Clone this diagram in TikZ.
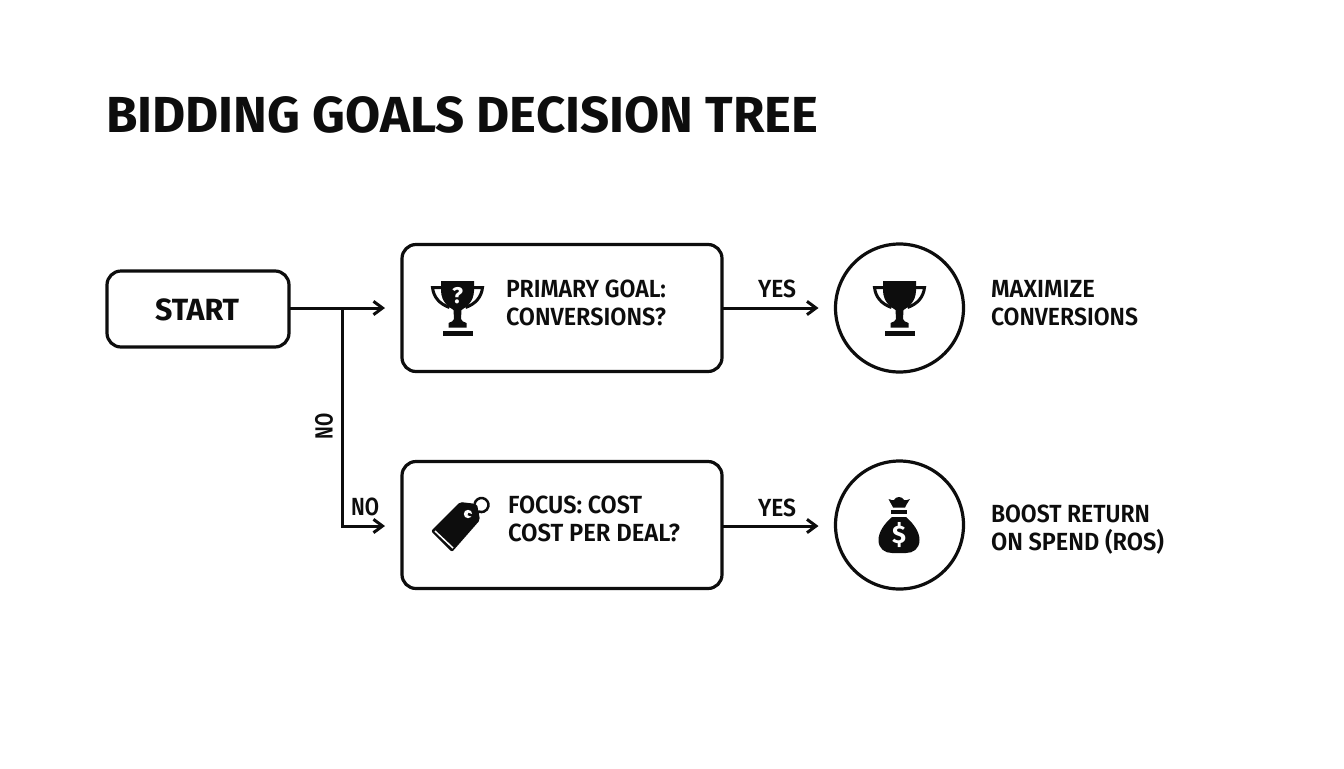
\documentclass[tikz,border=0pt]{standalone}
\usepackage{fontspec}
\usepackage{graphicx}
\setmainfont{Fira Sans}[UprightFont=* SemiBold,BoldFont=* Bold]
\usetikzlibrary{arrows.meta}
\newlength\pxu
\setlength\pxu{0.75pt}
\newcommand\fitw[2]{\resizebox{#1\pxu}{\height}{#2}}
\definecolor{ink}{HTML}{0D0D0D}
\tikzset{
  lbl/.style={inner sep=0pt,outer sep=0pt,anchor=base west,text=ink,font=\fontsize{18.6pt}{20pt}\selectfont},
  flowbox/.style={draw=ink,line width=3.2\pxu,rounded corners=14\pxu,rectangle,inner sep=0pt,outer sep=0pt,fill=white},
  goalcircle/.style={draw=ink,line width=3.2\pxu,circle,inner sep=0pt,outer sep=0pt,minimum size=128\pxu,fill=white},
  conn/.style={draw=ink,line width=3\pxu},
  arrowed/.style={conn,-{Straight Barb[length=6.75pt,width=10pt,line width=2.25pt]}},
  trophy/.pic={
    \fill[ink] (-16.5,0) -- (16.5,0) -- (16.5,10) .. controls (16,21) and (9,26) .. (4,29)
      -- (3.5,38) .. controls (4,40) and (6,41) .. (9,42) -- (9,46.5) -- (-9,46.5) -- (-9,42)
      .. controls (-6,41) and (-4,40) .. (-3.5,38) -- (-4,29) .. controls (-9,26) and (-16,21) .. (-16.5,10) -- cycle;
    \fill[ink] (-15,50) rectangle (15,54.5);
    \draw[ink,line width=3\pxu] (15,6.5) -- (25,6.5) .. controls (24,16) and (18,23) .. (8,26.5);
    \draw[ink,line width=3\pxu] (-15,6.5) -- (-25,6.5) .. controls (-24,16) and (-18,23) .. (-8,26.5);
  }
}
\begin{document}
\begin{tikzpicture}[x=\pxu,y=-\pxu]
\useasboundingbox[fill=white] (0,0) rectangle (1344,768);

\node[lbl,font=\fontsize{38pt}{40pt}\selectfont\bfseries] (title) at (106,132) {\fitw{712}{BIDDING GOALS DECISION TREE}};

\node[flowbox,minimum width=182\pxu,minimum height=76\pxu] (start) at (198,309) {};
\node[flowbox,minimum width=320\pxu,minimum height=127\pxu] (q1) at (562,308) {};
\node[flowbox,minimum width=320\pxu,minimum height=127\pxu] (q2) at (562,525) {};
\node[goalcircle] (g1) at (899.5,308) {};
\node[goalcircle] (g2) at (899.5,525) {};
\coordinate (branch) at (342,308);

\draw[arrowed,shorten >=17\pxu] (start.east |- q1.west) -- (q1.west);
\draw[arrowed,shorten >=17\pxu] (branch) |- ([yshift=-1\pxu]q2.west);
\draw[arrowed,shorten >=17\pxu] (q1.east) -- (g1.west);
\draw[arrowed,shorten >=17\pxu] ([yshift=-1\pxu]q2.east) -- ([yshift=-1\pxu]g2.west);

\node[lbl,font=\fontsize{23pt}{25pt}\selectfont\bfseries] (tstart) at (155,320) {\fitw{84}{START}};
\node[lbl] (t1a) at (506,297.5) {\fitw{160}{PRIMARY GOAL:}};
\node[lbl] (t1b) at (506,325.5) {\fitw{160}{CONVERSIONS?}};
\node[lbl] (t2a) at (508,513.5) {\fitw{134}{FOCUS: COST}};
\node[lbl] (t2b) at (508,541) {\fitw{172}{COST PER DEAL?}};
\node[lbl] (t3a) at (991,297.5) {\fitw{104}{MAXIMIZE}};
\node[lbl] (t3b) at (991,325.5) {\fitw{147}{CONVERSIONS}};
\node[lbl] (t4a) at (991,522.5) {\fitw{159}{BOOST RETURN}};
\node[lbl] (t4b) at (991,550) {\fitw{173}{ON SPEND (ROS)}};
\node[lbl] (y1) at (758,297) {\fitw{38}{YES}};
\node[lbl] (y2) at (758,516) {\fitw{38}{YES}};
\node[lbl] (n2) at (351,515.5) {\fitw{28}{NO}};
\node[lbl,anchor=base,rotate=90] (n1) at (332.5,426) {\fitw{26}{NO}};

% trophy icons
\pic at (457.5,281) {trophy};
\node[inner sep=0pt,text=white,font=\fontsize{17pt}{18pt}\selectfont\bfseries] (qm) at (457.5,296) {?};
\pic at (899.5,281) {trophy};

% price tag
\fill[ink,rounded corners=2\pxu] (431,531) -- (452,552) -- (480,520) -- (477,504) -- (460,502) -- cycle;
\draw[white,line width=1.5\pxu] (435,531) -- (453,548);
\fill[white] (468,514) circle (4.2\pxu);
\draw[ink,line width=2.5\pxu] (474.6,503.8) arc[start angle=170,end angle=-110,radius=7\pxu] .. controls (476,516) and (472,516) .. (468,514);

% money bag
\fill[ink] (892,517) -- (906,517) .. controls (914,524) and (919.5,532) .. (919.5,540)
  .. controls (919.5,549) and (913,553) .. (906,553) -- (892,553)
  .. controls (885,553) and (878.5,549) .. (878.5,540) .. controls (878.5,532) and (884,524) .. (892,517) -- cycle;
\fill[ink] (891,510) rectangle (907,513.5);
\fill[ink] (893,507.5) .. controls (891,503) and (889,501) .. (888.5,499) .. controls (892,500) and (893,501) .. (894,500)
  .. controls (895,498) and (897,497) .. (899,497) .. controls (901,497) and (903,498) .. (904,500)
  .. controls (905,501) and (907,500) .. (910,499) .. controls (909,501) and (907,503) .. (905,507.5) -- cycle;
\node[inner sep=0pt,text=white,font=\fontsize{19pt}{20pt}\selectfont\bfseries] (dollar) at (899,535) {\$};
\end{tikzpicture}
\end{document}
